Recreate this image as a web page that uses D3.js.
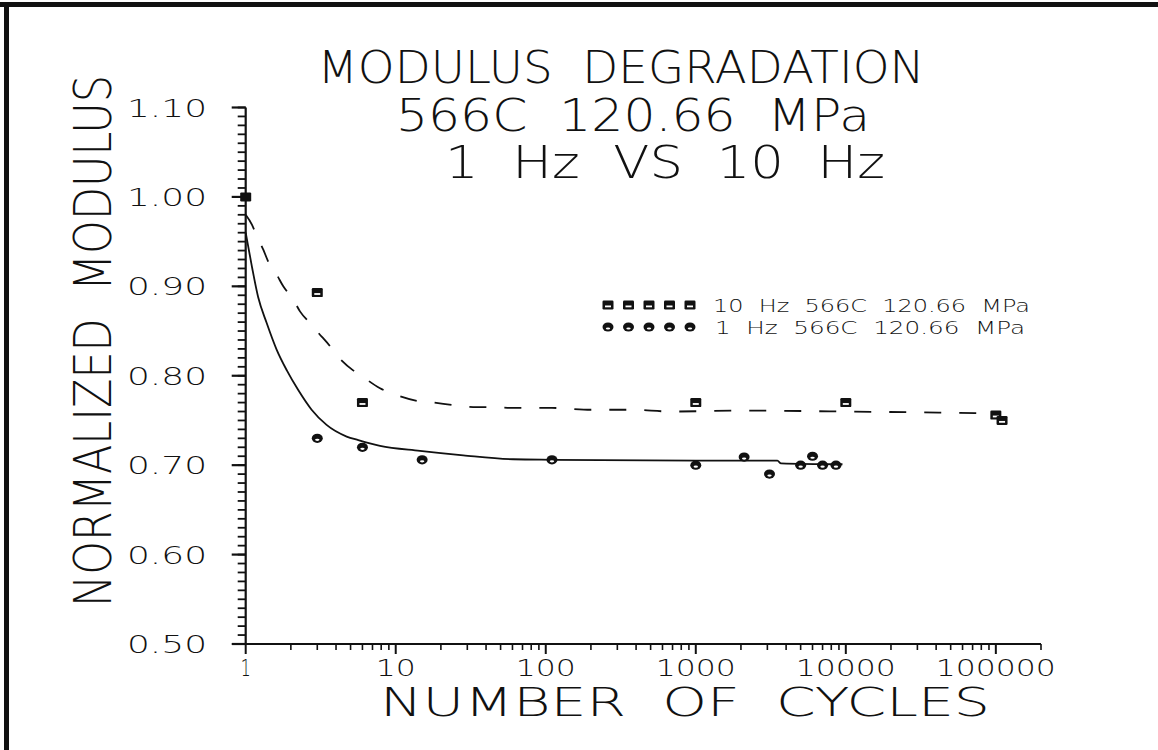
<!DOCTYPE html>
<html>
<head>
<meta charset="utf-8">
<script src="https://cdn.jsdelivr.net/npm/d3@7"></script>
<style>
  html, body { margin: 0; padding: 0; background: #fff; }
  svg { display: block; }
  text { font-family: "DejaVu Sans", "Liberation Sans", sans-serif; font-weight: 200; fill: #111; white-space: pre; }
</style>
</head>
<body>
<svg id="chart" width="1158" height="750"></svg>
<script>
// ---- data ----
const titleLines = ["MODULUS  DEGRADATION", "566C  120.66  MPa", "1  Hz  VS  10  Hz"];
const xLabel = "NUMBER  OF  CYCLES";
const yLabel = "NORMALIZED  MODULUS";
const xTickValues = [1, 10, 100, 1000, 10000, 100000];
const xTickLabels = ["1", "10", "100", "1000", "10000", "100000"];
const yTickValues = [0.50, 0.60, 0.70, 0.80, 0.90, 1.00, 1.10];
const yTickLabels = ["0.50", "0.60", "0.70", "0.80", "0.90", "1.00", "1.10"];
const legendLabels = ["10  Hz  566C  120.66  MPa", "1  Hz  566C  120.66  MPa"];

// 10 Hz measured points
const tenHzCycles = [1, 3, 6, 1000, 10000, 100000, 110000];
const tenHzModulus = [1.000, 0.893, 0.770, 0.770, 0.770, 0.756, 0.750];
// 1 Hz measured points
const oneHzCycles = [1, 3, 6, 15, 110, 1000, 2100, 3100, 5000, 6000, 7000, 8600];
const oneHzModulus = [1.000, 0.730, 0.720, 0.706, 0.706, 0.700, 0.709, 0.690, 0.700, 0.710, 0.700, 0.700];

// fitted curves
const tenHzFitCycles = [1, 1.1, 1.18, 1.31, 1.41, 1.61, 1.78, 2.08, 2.3, 2.68, 3.05, 3.65, 4.14, 5.2, 5.78, 7.86, 9.9, 13.8, 17.8, 24.8, 32.8, 44.6, 60.7, 110, 200, 370, 690, 2000, 10000, 100000];
const tenHzFitModulus = [0.980, 0.969, 0.957, 0.941, 0.928, 0.913, 0.900, 0.885, 0.872, 0.859, 0.848, 0.833, 0.821, 0.806, 0.801, 0.786, 0.779, 0.772, 0.770, 0.767, 0.765, 0.765, 0.764, 0.764, 0.762, 0.762, 0.760, 0.761, 0.760, 0.758];
const oneHzFitCycles = [1, 1.1, 1.21, 1.38, 1.61, 1.88, 2.24, 2.75, 3.46, 4.71, 5.63, 7.86, 14.5, 28.2, 60.7, 112, 1000, 3500, 3700, 9500];
const oneHzFitModulus = [0.960, 0.922, 0.888, 0.859, 0.829, 0.806, 0.784, 0.762, 0.745, 0.732, 0.728, 0.7215, 0.716, 0.711, 0.7066, 0.706, 0.705, 0.705, 0.702, 0.701];

// ---- drawing ----
const svg = d3.select("#chart");
const ink = "#111";

// frame (top and left edges only)
svg.append("rect").attr("x", 0).attr("y", 2).attr("width", 1158).attr("height", 5).attr("fill", ink);
svg.append("rect").attr("x", 4).attr("y", 2).attr("width", 5).attr("height", 748).attr("fill", ink);

const x = d3.scaleLog().domain([1, 200000]).range([245.7, 1041]);
const y = d3.scaleLinear().domain([0.5, 1.1]).range([644, 107.5]);

// title
const titleX = [621, 633, 665];
const titleW = [607, 474, 440];
titleLines.forEach((t, i) => {
  svg.append("text").attr("x", titleX[i]).attr("y", 83 + i * 47.5)
    .attr("text-anchor", "middle").attr("font-size", 44)
    .attr("textLength", titleW[i]).attr("lengthAdjust", "spacingAndGlyphs")
    .text(t);
});

// y axis
const yMinor = d3.range(50, 111).map(v => v / 100);
const gy = svg.append("g");
gy.append("line").attr("x1", x(1)).attr("x2", x(1)).attr("y1", y(1.1)).attr("y2", y(0.5))
  .attr("stroke", ink).attr("stroke-width", 2.2);
gy.selectAll("line.minor").data(yMinor).join("line").attr("class", "minor")
  .attr("x1", x(1) - 8).attr("x2", x(1)).attr("y1", d => y(d)).attr("y2", d => y(d))
  .attr("stroke", ink).attr("stroke-width", 1.8);
gy.selectAll("line.major").data(yTickValues).join("line").attr("class", "major")
  .attr("x1", x(1) - 14).attr("x2", x(1)).attr("y1", d => y(d)).attr("y2", d => y(d))
  .attr("stroke", ink).attr("stroke-width", 2.2);
gy.selectAll("text").data(yTickValues).join("text")
  .attr("x", 207).attr("y", d => y(d) + 9).attr("text-anchor", "end")
  .attr("font-size", 25).attr("textLength", 80).attr("lengthAdjust", "spacingAndGlyphs")
  .text((d, i) => yTickLabels[i]);

// x axis
const xMinor = [];
[1, 10, 100, 1000, 10000, 100000].forEach(dec => { for (let k = 2; k <= 9; k++) { if (dec * k <= 200000) xMinor.push(dec * k); } });
const gx = svg.append("g");
gx.append("line").attr("x1", x(1) - 12).attr("x2", x(200000)).attr("y1", y(0.5)).attr("y2", y(0.5))
  .attr("stroke", ink).attr("stroke-width", 2.2);
gx.selectAll("line.minor").data(xMinor).join("line").attr("class", "minor")
  .attr("x1", d => x(d)).attr("x2", d => x(d)).attr("y1", y(0.5)).attr("y2", y(0.5) + 6)
  .attr("stroke", ink).attr("stroke-width", 1.6);
gx.selectAll("line.major").data(xTickValues).join("line").attr("class", "major")
  .attr("x1", d => x(d)).attr("x2", d => x(d)).attr("y1", y(0.5)).attr("y2", y(0.5) + 10)
  .attr("stroke", ink).attr("stroke-width", 2);
gx.selectAll("text").data(xTickValues).join("text")
  .attr("x", d => x(d)).attr("y", 676).attr("text-anchor", "middle")
  .attr("font-size", 23)
  .attr("textLength", (d, i) => xTickLabels[i].length === 1 ? 10 : xTickLabels[i].length * 20)
  .attr("lengthAdjust", "spacingAndGlyphs")
  .text((d, i) => xTickLabels[i]);

// axis titles
svg.append("text").attr("x", 685).attr("y", 716).attr("text-anchor", "middle")
  .attr("font-size", 39).attr("textLength", 610).attr("lengthAdjust", "spacingAndGlyphs")
  .text(xLabel);
svg.append("text").attr("transform", "translate(111,341) rotate(-90) scale(1,1.27)").attr("text-anchor", "middle")
  .attr("font-size", 41).attr("textLength", 532).attr("lengthAdjust", "spacingAndGlyphs")
  .text(yLabel);

// fitted curves
const line = d3.line().x(d => x(d[0])).y(d => y(d[1])).curve(d3.curveMonotoneX);
svg.append("path").datum(d3.zip(tenHzFitCycles, tenHzFitModulus)).attr("d", line)
  .attr("fill", "none").attr("stroke", ink).attr("stroke-width", 1.8).attr("stroke-dasharray", "17,18");
svg.append("path").datum(d3.zip(oneHzFitCycles, oneHzFitModulus)).attr("d", line)
  .attr("fill", "none").attr("stroke", ink).attr("stroke-width", 1.8);

// markers
function squareMarker(g, cx, cy, solid) {
  g.append("rect").attr("x", cx - 5.5).attr("y", cy - 4.5).attr("width", 11).attr("height", 9)
    .attr("rx", 1.2).attr("fill", ink);
  if (!solid) g.append("rect").attr("x", cx - 3).attr("y", cy + 0.5).attr("width", 6).attr("height", 1.8).attr("fill", "#fff");
}
function circleMarker(g, cx, cy) {
  g.append("ellipse").attr("cx", cx).attr("cy", cy).attr("rx", 5.5).attr("ry", 4.6).attr("fill", ink);
  g.append("ellipse").attr("cx", cx).attr("cy", cy + 1.5).attr("rx", 2.2).attr("ry", 1.1).attr("fill", "#fff");
}
const gm = svg.append("g");
const shared = new Set(tenHzCycles.filter((c, i) => oneHzCycles.some((o, j) => o === c && oneHzModulus[j] === tenHzModulus[i])));
oneHzCycles.forEach((c, i) => { if (!shared.has(c)) circleMarker(gm, x(c), y(oneHzModulus[i])); });
tenHzCycles.forEach((c, i) => squareMarker(gm, x(c), y(tenHzModulus[i]), shared.has(c)));

// legend
const lg = svg.append("g");
for (let k = 0; k < 5; k++) {
  squareMarker(lg, 608 + k * 20.5, 305, false);
  circleMarker(lg, 608 + k * 20.5, 327);
}
const legendW = [317, 310];
legendLabels.forEach((t, i) => {
  lg.append("text").attr("x", 713 + i * 2).attr("y", 312 + i * 21.5)
    .attr("font-size", 17.5).attr("textLength", legendW[i]).attr("lengthAdjust", "spacingAndGlyphs")
    .text(t);
});
</script>
</body>
</html>
